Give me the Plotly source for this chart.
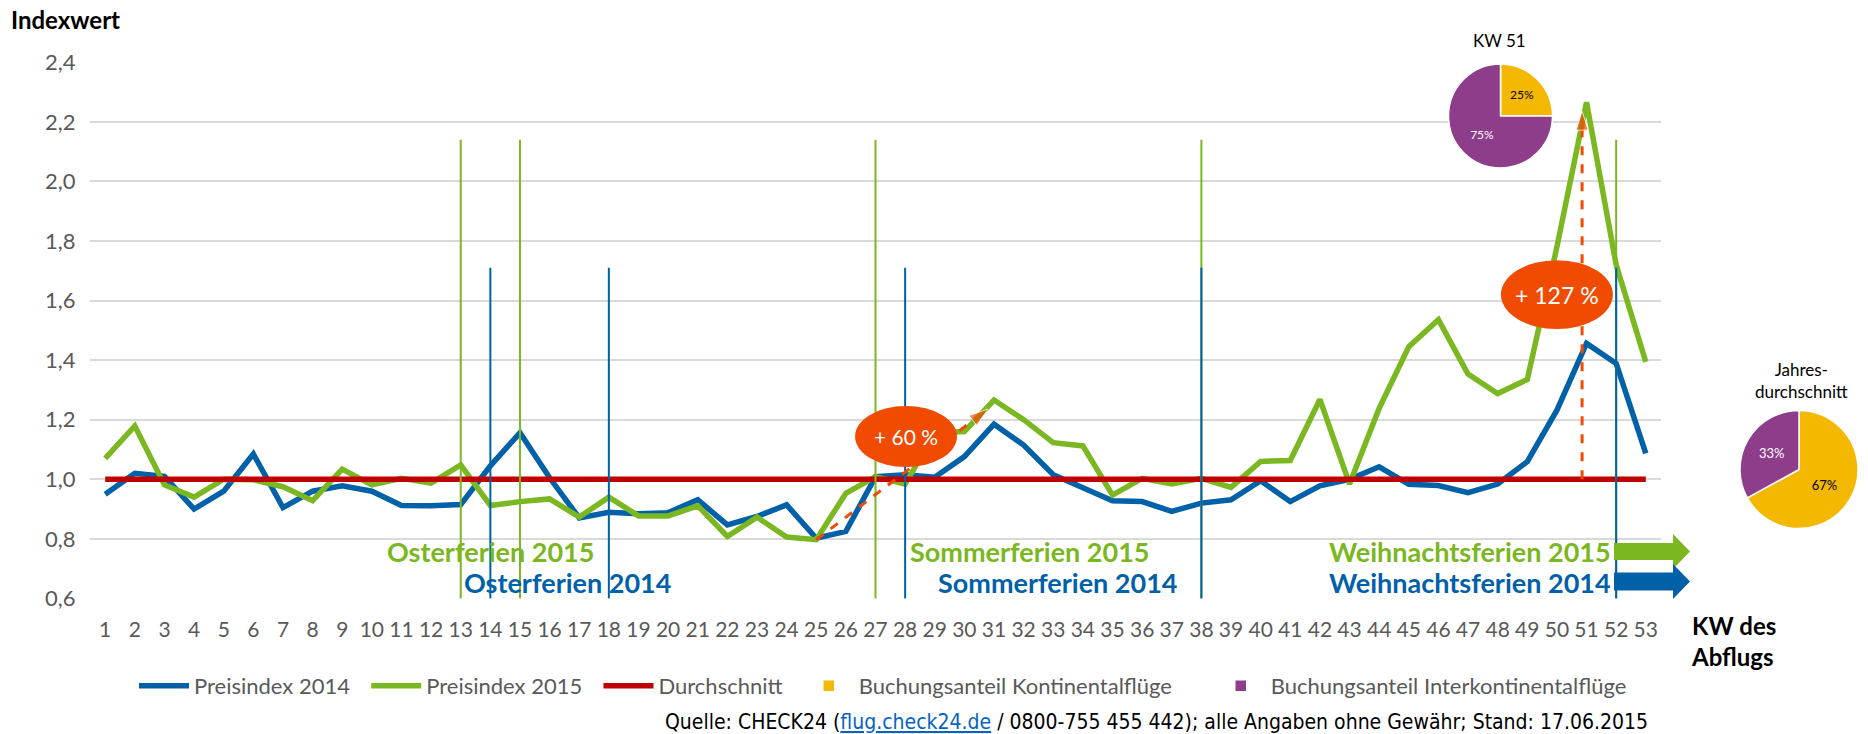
import plotly.graph_objects as go

W, H = 1868, 734

# ---- data -------------------------------------------------------------
weeks = list(range(1, 54))

preis_2014 = [0.95, 1.02, 1.01, 0.90, 0.96, 1.085, 0.905, 0.96, 0.978, 0.96,
              0.912, 0.911, 0.915, 1.045, 1.156, 1.005, 0.87, 0.889, 0.884, 0.888,
              0.931, 0.847, 0.875, 0.914, 0.802, 0.825, 1.009, 1.015, 1.007, 1.076,
              1.185, 1.115, 1.015, 0.97, 0.928, 0.925, 0.892, 0.92, 0.931, 0.995,
              0.925, 0.978, 1.0, 1.042, 0.983, 0.979, 0.955, 0.984, 1.059, 1.232,
              1.456, 1.389, 1.087]

preis_2015 = [1.07, 1.179, 0.981, 0.94, 1.0, 0.998, 0.975, 0.928, 1.034, 0.981,
              1.003, 0.987, 1.048, 0.912, 0.925, 0.934, 0.873, 0.94, 0.877, 0.877,
              0.911, 0.808, 0.873, 0.806, 0.797, 0.953, 1.009, 0.984, 1.155, 1.16,
              1.266, 1.2, 1.123, 1.112, 0.947, 1.003, 0.984, 1.003, 0.973, 1.06,
              1.063, 1.268, 0.984, 1.238, 1.445, 1.536, 1.353, 1.288, 1.335, 1.78,
              2.266, 1.72, 1.394]

durchschnitt = [1.0] * len(weeks)

ferien_2015 = [13, 15, 27, 38, 52]
ferien_2014 = [14, 18, 28, 38, 52]
ferien_top_2015 = 2.14
ferien_top_2014 = 1.71

anteil_labels = ["Buchungsanteil Kontinentalflüge", "Buchungsanteil Interkontinentalflüge"]
anteil_kw51 = [25, 75]
anteil_jahr = [67, 33]

y_ticks = [0.6, 0.8, 1.0, 1.2, 1.4, 1.6, 1.8, 2.0, 2.2, 2.4]

# ---- style ------------------------------------------------------------
BLUE = "#0061A9"
GREEN = "#7AB721"
RED = "#C00000"
ORANGE = "#F04B00"
YELLOW = "#F5B800"
PURPLE = "#8E3D8B"
GRID = "#D9D9D9"
TICK = "#595959"
FONT = "Lato, 'Open Sans', sans-serif"

PLOT_L, PLOT_R = 90.4, 1660.6
PLOT_T, PLOT_B = 62, 598.7

GAP = "\u00a0" * 2


def px(x):
    return x / W


def py(y):
    return 1 - y / H


def vlines(xs, top):
    x, y = [], []
    for w in xs:
        x += [w, w, None]
        y += [0.6, top, None]
    return x, y


def block_arrow(x0, xb, xt, yc, hs, hh):
    pts = [(x0, yc - hs), (xb, yc - hs), (xb, yc - hh), (xt, yc),
           (xb, yc + hh), (xb, yc + hs), (x0, yc + hs)]
    return "M " + " L ".join(f"{px(a):.5f},{py(b):.5f}" for a, b in pts) + " Z"


fig = go.Figure()

fig.add_trace(go.Scatter(x=weeks, y=preis_2014, mode="lines", name="Preisindex 2014" + GAP,
                         line=dict(color=BLUE, width=5.5)))
fig.add_trace(go.Scatter(x=weeks, y=preis_2015, mode="lines", name="Preisindex 2015" + GAP,
                         line=dict(color=GREEN, width=5.5)))
fig.add_trace(go.Scatter(x=weeks, y=durchschnitt, mode="lines", name="Durchschnitt" + GAP,
                         line=dict(color=RED, width=5.5)))

gx, gy = vlines(ferien_2015, ferien_top_2015)
fig.add_trace(go.Scatter(x=gx, y=gy, mode="lines", showlegend=False,
                         line=dict(color=GREEN, width=2)))
bx, by = vlines(ferien_2014, ferien_top_2014)
fig.add_trace(go.Scatter(x=bx, y=by, mode="lines", showlegend=False,
                         line=dict(color=BLUE, width=2)))

# dashed orange arrows (+60 %, +127 %)
fig.add_trace(go.Scatter(
    x=[25, 31 - 0.2], y=[preis_2015[24], preis_2015[30] - 0.03],
    mode="lines+markers", showlegend=False,
    line=dict(color=ORANGE, width=3, dash="dash"),
    marker=dict(symbol="arrow", size=[0, 20], color=ORANGE, angleref="previous")))
fig.add_trace(go.Scatter(
    x=[51 - 0.15, 51 - 0.15], y=[1.0, preis_2015[50] - 0.03],
    mode="lines+markers", showlegend=False,
    line=dict(color=ORANGE, width=3, dash="dash"),
    marker=dict(symbol="arrow", size=[0, 20], color=ORANGE, angleref="previous")))

# pies
fig.add_trace(go.Pie(
    labels=[lab + GAP * 3 for lab in anteil_labels], values=anteil_kw51, sort=False,
    direction="clockwise",
    marker=dict(colors=[YELLOW, PURPLE], line=dict(color="white", width=1.5)),
    textinfo="percent", textposition="inside", insidetextorientation="horizontal",
    textfont=dict(family=FONT, size=12, color=["black", "white"]),
    domain=dict(x=[px(1448.5), px(1552.5)], y=[py(168), py(64)]),
    hoverinfo="skip", showlegend=True))
fig.add_trace(go.Pie(
    labels=[lab + GAP * 3 for lab in anteil_labels], values=anteil_jahr, sort=False,
    direction="clockwise",
    marker=dict(colors=[YELLOW, PURPLE], line=dict(color="white", width=1.5)),
    textinfo="percent", textposition="inside", insidetextorientation="horizontal",
    textfont=dict(family=FONT, size=13, color=["black", "white"]),
    domain=dict(x=[px(1740), px(1858)], y=[py(528.5), py(410.5)]),
    hoverinfo="skip", showlegend=False))

shapes = [
    dict(type="circle", xref="x", yref="y", x0=26.31, x1=29.75, y0=1.041, y1=1.246,
         fillcolor=ORANGE, line=dict(width=0)),
    dict(type="circle", xref="x", yref="y", x0=48.11, x1=51.89, y0=1.5045, y1=1.7355,
         fillcolor=ORANGE, line=dict(width=0)),
    dict(type="path", xref="paper", yref="paper",
         path=block_arrow(1614, 1673, 1690, 551.5, 8.5, 17.5),
         fillcolor=GREEN, line=dict(width=0)),
    dict(type="path", xref="paper", yref="paper",
         path=block_arrow(1614, 1673, 1690, 581.5, 9, 17.5),
         fillcolor=BLUE, line=dict(width=0)),
]

ann = [
    dict(text="<b>Indexwert</b>", x=px(9), y=py(20), xanchor="left", yanchor="middle",
         font=dict(size=24, color="black")),
    dict(text="<b>KW des<br>Abflugs</b>", x=px(1689), y=py(641), xanchor="left",
         yanchor="middle", align="left", font=dict(size=24, color="black")),
    dict(text="KW 51", x=px(1499), y=py(40), xanchor="center", yanchor="middle",
         font=dict(size=17, color="black")),
    dict(text="Jahres-<br>durchschnitt", x=px(1801), y=py(381), xanchor="center",
         yanchor="middle", font=dict(size=17, color="black")),
    dict(text="+ 60 %", xref="x", yref="y", x=28.03, y=1.1435, font=dict(size=21, color="white")),
    dict(text="+ 127 %", xref="x", yref="y", x=50.0, y=1.62, font=dict(size=23, color="white")),
    dict(text="Quelle: CHECK24 (<span style='color:#0563C1'><u>flug.check24.de</u></span>"
              " / 0800-755 455 442); alle Angaben ohne Gewähr; Stand: 17.06.2015",
         x=px(1650), y=py(722), xanchor="right", yanchor="middle",
         font=dict(family="'DejaVu Sans Condensed', 'DejaVu Sans', sans-serif",
                   size=21, color="black")),
]

labels = [
    ("Osterferien 2015", 10.44, 0.759, "left", GREEN),
    ("Osterferien 2014", 13.04, 0.653, "left", BLUE),
    ("Sommerferien 2015", 28.09, 0.759, "left", GREEN),
    ("Sommerferien 2014", 29.04, 0.653, "left", BLUE),
    ("Weihnachtsferien 2015", 51.9, 0.759, "right", GREEN),
    ("Weihnachtsferien 2014", 51.9, 0.653, "right", BLUE),
]
for text, x, y, anchor, color in labels:
    ann.append(dict(text=f"<b>{text}</b>", xref="x", yref="y", x=x, y=y,
                    xanchor=anchor, yanchor="middle", font=dict(size=27, color=color)))

for a in ann:
    a.setdefault("xref", "paper")
    a.setdefault("yref", "paper")
    a["showarrow"] = False

fig.update_layout(
    width=W, height=H,
    margin=dict(l=0, r=0, t=0, b=0, autoexpand=False),
    paper_bgcolor="white", plot_bgcolor="white",
    font=dict(family=FONT, color=TICK),
    separators=",.",
    hovermode=False,
    xaxis=dict(domain=[px(PLOT_L), px(PLOT_R)], range=[0.5, 53.5], automargin=False,
               tickmode="array", tickvals=weeks, ticktext=[str(w) for w in weeks],
               showgrid=False, zeroline=False, showline=False, ticks="",
               tickfont=dict(size=21, color=TICK), ticklabelstandoff=16),
    yaxis=dict(domain=[py(PLOT_B), py(PLOT_T)], range=[0.599, 2.401], automargin=False,
               tickmode="array", tickvals=y_ticks, tickformat=".1f",
               showgrid=True, gridcolor=GRID, gridwidth=2, zeroline=False,
               showline=False, ticks="", tickfont=dict(size=22, color=TICK),
               ticklabelstandoff=14),
    legend=dict(orientation="h", x=px(900), xanchor="center", y=py(686),
                yanchor="middle", font=dict(size=22, color=TICK), itemwidth=50,
                bgcolor="rgba(0,0,0,0)"),
    shapes=shapes,
    annotations=ann,
)

fig.write_html("out.html", config=dict(displayModeBar=False),
               post_script="document.body.style.margin='0';")
